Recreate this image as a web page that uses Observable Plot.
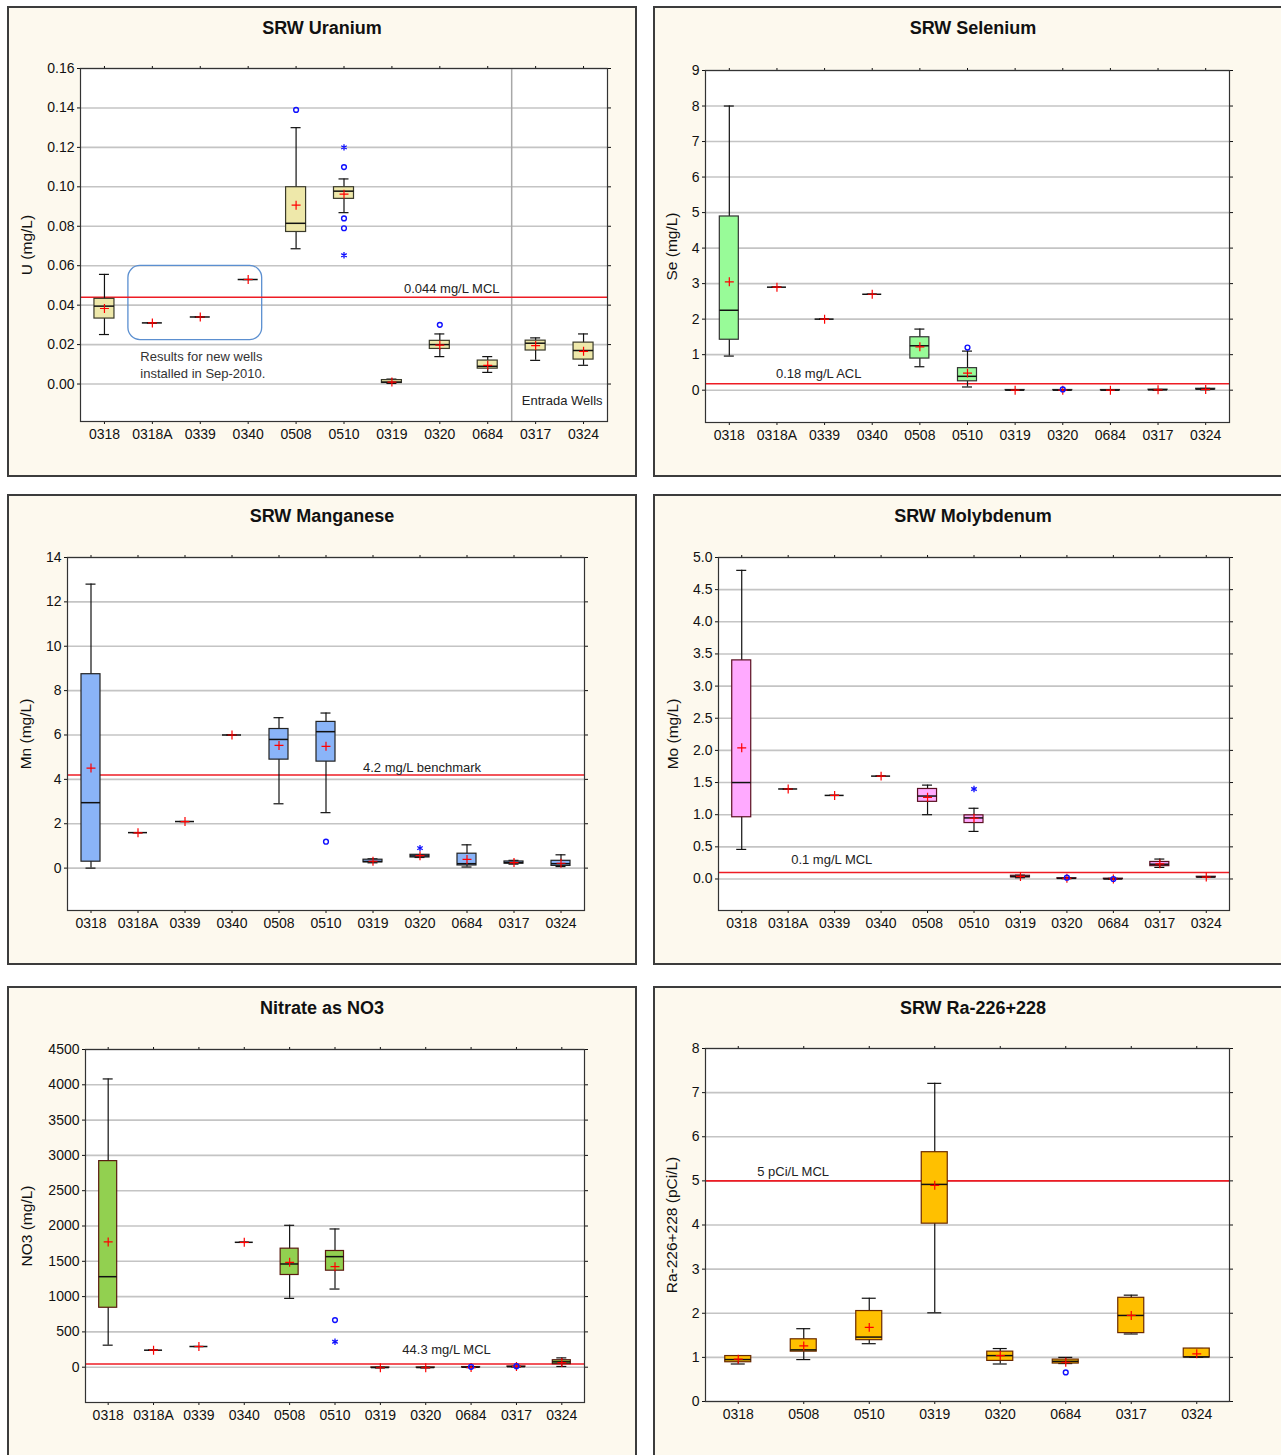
<!DOCTYPE html>
<html><head><meta charset="utf-8">
<script src="https://cdn.jsdelivr.net/npm/d3@7"></script>
<script src="https://cdn.jsdelivr.net/npm/@observablehq/plot@0.6"></script>
<style>
body{margin:0;width:1281px;height:1455px;overflow:hidden;background:#fff;position:relative;font-family:"Liberation Sans",Arial,sans-serif;}
.panel{position:absolute;background:#fdf9ee;border:2px solid #3c3c3c;box-sizing:border-box;}
.title{position:absolute;text-align:center;font-weight:bold;font-size:18px;line-height:22px;color:#111;}
.chart{position:absolute;}
</style></head><body>
<script>
// ---------- categories ----------
const wells11 = ["0318","0318A","0339","0340","0508","0510","0319","0320","0684","0317","0324"];
const wellsRa = ["0318","0508","0510","0319","0320","0684","0317","0324"];

// ---------- Uranium (mg/L) ----------
const uMin  = [0.0251,0.031,0.034,0.053,0.0686,0.0869,0.0003,0.0139,0.0059,0.012,0.0095];
const uQ1   = [0.0332,0.031,0.034,0.053,0.0771,0.0939,0.0005,0.0178,0.0078,0.017,0.0124];
const uMed  = [0.0395,0.031,0.034,0.053,0.0815,0.0978,0.0010,0.0200,0.0090,0.0207,0.0170];
const uQ3   = [0.0432,0.031,0.034,0.053,0.0998,0.0998,0.0020,0.0219,0.0119,0.022,0.021];
const uMax  = [0.0556,0.031,0.034,0.053,0.130,0.104,0.0025,0.0254,0.0139,0.0234,0.0254];
const uMean = [0.0383,0.031,0.034,0.053,0.0907,0.0963,0.0010,0.0197,0.0095,0.0195,0.0166];
const uOut  = [{well:"0508",value:0.139},{well:"0510",value:0.110},{well:"0510",value:0.084},{well:"0510",value:0.079},{well:"0320",value:0.030}];
const uExt  = [{well:"0510",value:0.120},{well:"0510",value:0.0653}];
const uTicks = [0,0.02,0.04,0.06,0.08,0.10,0.12,0.14,0.16];

// ---------- Selenium (mg/L) ----------
const seMin  = [0.96,2.9,2.0,2.7,0.66,0.09,0,0,0,0,0.01];
const seQ1   = [1.42,2.9,2.0,2.7,0.89,0.25,0,0,0,0.005,0.02];
const seMed  = [2.25,2.9,2.0,2.7,1.25,0.39,0,0,0,0.01,0.03];
const seQ3   = [4.89,2.9,2.0,2.7,1.49,0.62,0.005,0.005,0.005,0.015,0.04];
const seMax  = [8.0,2.9,2.0,2.7,1.72,1.10,0.01,0.01,0.01,0.02,0.05];
const seMean = [3.05,2.9,2.0,2.7,1.22,0.48,0,0,0,0.01,0.02];
const seOut  = [{well:"0510",value:1.2},{well:"0320",value:0.02}];
const seExt  = [];
const seTicks = [0,1,2,3,4,5,6,7,8,9];

// ---------- Manganese (mg/L) ----------
const mnMin  = [0.0,1.6,2.1,6.0,2.90,2.50,0.24,0.48,0.05,0.18,0.07];
const mnQ1   = [0.29,1.6,2.1,6.0,4.89,4.80,0.26,0.48,0.12,0.20,0.10];
const mnMed  = [2.95,1.6,2.1,6.0,5.80,6.15,0.30,0.55,0.20,0.25,0.20];
const mnQ3   = [8.74,1.6,2.1,6.0,6.27,6.59,0.38,0.60,0.65,0.30,0.33];
const mnMax  = [12.8,1.6,2.1,6.0,6.78,6.99,0.42,0.60,1.05,0.35,0.60];
const mnMean = [4.51,1.59,2.1,6.0,5.53,5.49,0.31,0.56,0.39,0.25,0.22];
const mnOut  = [{well:"0510",value:1.19}];
const mnExt  = [{well:"0320",value:0.9}];
const mnTicks = [0,2,4,6,8,10,12,14];

// ---------- Molybdenum (mg/L) ----------
const moMin  = [0.46,1.4,1.3,1.6,1.00,0.74,0.02,0.005,0.0,0.18,0.025];
const moQ1   = [0.96,1.4,1.3,1.6,1.20,0.87,0.025,0.005,0.0,0.20,0.025];
const moMed  = [1.50,1.4,1.3,1.6,1.29,0.95,0.04,0.01,0.0,0.23,0.03];
const moQ3   = [3.40,1.4,1.3,1.6,1.40,0.99,0.05,0.012,0.005,0.265,0.035];
const moMax  = [4.80,1.4,1.3,1.6,1.46,1.10,0.06,0.015,0.01,0.31,0.035];
const moMean = [2.04,1.4,1.3,1.6,1.27,0.945,0.04,0.01,0.0,0.235,0.03];
const moOut  = [{well:"0320",value:0.02},{well:"0684",value:0.0}];
const moExt  = [{well:"0510",value:1.40}];
const moTicks = [0,0.5,1,1.5,2,2.5,3,3.5,4,4.5,5];

// ---------- Nitrate as NO3 (mg/L) ----------
const noMin  = [312,241,293,1769,975,1107,-10,-10,-5,5,10];
const noQ1   = [842,241,293,1769,1306,1367,-8,-8,-3,5,43];
const noMed  = [1282,241,293,1769,1462,1566,-5,-5,0,8,76];
const noQ3   = [2919,241,293,1769,1679,1646,-3,-3,2,10,99];
const noMax  = [4083,241,293,1769,2010,1958,0,0,5,12,132];
const noMean = [1774,241,293,1769,1485,1424,-8,-8,-5,10,66];
const noOut  = [{well:"0510",value:667},{well:"0684",value:5},{well:"0317",value:15}];
const noExt  = [{well:"0510",value:360}];
const noTicks = [0,500,1000,1500,2000,2500,3000,3500,4000,4500];

// ---------- Ra-226+228 (pCi/L) ----------
const raMin  = [0.85,0.95,1.31,2.01,0.85,0.86,1.53,1.00];
const raQ1   = [0.89,1.13,1.39,4.03,0.92,0.86,1.55,1.00];
const raMed  = [0.95,1.17,1.46,4.92,1.04,0.91,1.95,1.01];
const raQ3   = [1.03,1.41,2.05,5.65,1.13,0.95,2.35,1.20];
const raMax  = [1.04,1.65,2.34,7.21,1.20,1.00,2.41,1.20];
const raMean = [0.96,1.26,1.68,4.90,1.04,0.89,1.95,1.08];
const raOut  = [{well:"0684",value:0.66}];
const raExt  = [];
const raTicks = [0,1,2,3,4,5,6,7,8];

// ---------- panels ----------
const panels = [
  {title:"SRW Uranium", ylabel:"U (mg/L)", wells:wells11, min:uMin,q1:uQ1,med:uMed,q3:uQ3,max:uMax,mean:uMean,out:uOut,ext:uExt,
   ticks:uTicks, fmt:d3.format(".2f"), yDomain:[-0.019,0.16], limit:0.044,
   limitLabel:{well:"0319", y:0.0482, text:"0.044 mg/L MCL"}, labelDx:12,
   box:{x:7,y:6,w:630,h:471}, frame:{x1:80,x2:607,y1:68,y2:421}, ylabelDx:-53,
   fill:"#eee8aa", boxStroke:"#3a3a2a", boxW:20, capW:10, extra:true},
  {title:"SRW Selenium", ylabel:"Se (mg/L)", wells:wells11, min:seMin,q1:seQ1,med:seMed,q3:seQ3,max:seMax,mean:seMean,out:seOut,ext:seExt,
   ticks:seTicks, fmt:d3.format("d"), yDomain:[-0.91,9], limit:0.18,
   limitLabel:{well:"0318A", y:0.45, text:"0.18 mg/L ACL"}, labelDx:-1,
   box:{x:653,y:6,w:640,h:471}, frame:{x1:705,x2:1229,y1:70,y2:422}, ylabelDx:-33,
   fill:"#98fb98", boxStroke:"#333", boxW:19, capW:10},
  {title:"SRW Manganese", ylabel:"Mn (mg/L)", wells:wells11, min:mnMin,q1:mnQ1,med:mnMed,q3:mnQ3,max:mnMax,mean:mnMean,out:mnOut,ext:mnExt,
   ticks:mnTicks, fmt:d3.format("d"), yDomain:[-1.91,14], limit:4.2,
   limitLabel:{well:"0319", y:4.54, text:"4.2 mg/L benchmark"}, labelDx:-10,
   box:{x:7,y:494,w:630,h:471}, frame:{x1:67,x2:584,y1:557,y2:910}, ylabelDx:-41,
   fill:"#8ab4f8", boxStroke:"#222", boxW:19, capW:10},
  {title:"SRW Molybdenum", ylabel:"Mo (mg/L)", wells:wells11, min:moMin,q1:moQ1,med:moMed,q3:moQ3,max:moMax,mean:moMean,out:moOut,ext:moExt,
   ticks:moTicks, fmt:d3.format(".1f"), yDomain:[-0.49,5], limit:0.1,
   limitLabel:{well:"0318A", y:0.30, text:"0.1 mg/L MCL"}, labelDx:3,
   box:{x:653,y:494,w:640,h:471}, frame:{x1:718,x2:1229,y1:557,y2:910}, ylabelDx:-45,
   fill:"#ffaaff", boxStroke:"#5a1020", boxW:19, capW:10},
  {title:"Nitrate as NO3", ylabel:"NO3 (mg/L)", wells:wells11, min:noMin,q1:noQ1,med:noMed,q3:noQ3,max:noMax,mean:noMean,out:noOut,ext:noExt,
   ticks:noTicks, fmt:d3.format("d"), yDomain:[-500,4500], limit:44.3,
   limitLabel:{well:"0319", y:241, text:"44.3 mg/L MCL"}, labelDx:22,
   box:{x:7,y:986,w:630,h:475}, frame:{x1:85,x2:584,y1:1049,y2:1402}, ylabelDx:-58,
   fill:"#92d050", boxStroke:"#5a1a10", boxW:18, capW:10},
  {title:"SRW Ra-226+228", ylabel:"Ra-226+228 (pCi/L)", wells:wellsRa, min:raMin,q1:raQ1,med:raMed,q3:raQ3,max:raMax,mean:raMean,out:raOut,ext:raExt,
   ticks:raTicks, fmt:d3.format("d"), yDomain:[0,8], limit:5,
   limitLabel:{well:"0318", y:5.21, text:"5 pCi/L MCL"}, labelDx:19,
   box:{x:653,y:986,w:640,h:475}, frame:{x1:705,x2:1229,y1:1048,y2:1401}, ylabelDx:-33,
   fill:"#ffc000", boxStroke:"#6a2a00", boxW:26, capW:14}
];

function makePanel(p) {
  const W = p.box.w, H = p.box.h;
  const mL = p.frame.x1 - p.box.x, mR = p.box.x + W - p.frame.x2;
  const mT = p.frame.y1 - p.box.y, mB = p.box.y + H - p.frame.y2;
  const step = (p.frame.x2 - p.frame.x1) / p.wells.length;
  const bI = (step - p.boxW) / 2, cI = (step - p.capW) / 2;
  const rows = p.wells.map((w, i) => ({well:w, min:p.min[i], q1:p.q1[i], med:p.med[i], q3:p.q3[i], max:p.max[i], mean:p.mean[i]}));
  const extras = [];
  if (p.extra) {
    extras.push(Plot.ruleX([{well:"0317"}], {x:"well", dx:-step/2, stroke:"#a8a8a8", strokeWidth:1.5}));
    extras.push(Plot.barY([{well:"0339", lo:0.0223, hi:0.0599}], {x:"well", y1:"lo", y2:"hi", fill:"none", stroke:"#5b8fd0", strokeWidth:1.3, rx:12, insetLeft:-step, insetRight:-(step/2 + 14)}));
    extras.push(Plot.text([{well:"0318A", y:0.0137, t:"Results for new wells"},{well:"0318A", y:0.0051, t:"installed in Sep-2010."}],
      {x:"well", y:"y", text:"t", textAnchor:"start", dx:-12, fontSize:13, fill:"#333"}));
    extras.push(Plot.text([{well:"0324", y:-0.0086, t:"Entrada Wells"}], {x:"well", y:"y", text:"t", textAnchor:"end", dx:19, fontSize:13, fill:"#222"}));
  }
  const marks = [
    Plot.frame({fill:"white"}),
    Plot.gridY(p.ticks, {stroke:"#c4c4c4", strokeOpacity:1, strokeWidth:1.6}),
    ...extras,
    Plot.ruleY([p.limit], {stroke:"#ee1c24", strokeWidth:1.6}),
    Plot.ruleX(rows, {x:"well", y1:"min", y2:"max", stroke:"#111", strokeWidth:1.2}),
    Plot.tickY(rows, {x:"well", y:"max", insetLeft:cI, insetRight:cI, stroke:"#111", strokeWidth:1.2}),
    Plot.tickY(rows, {x:"well", y:"min", insetLeft:cI, insetRight:cI, stroke:"#111", strokeWidth:1.2}),
    Plot.barY(rows, {x:"well", y1:"q1", y2:"q3", fill:p.fill, stroke:p.boxStroke, strokeWidth:1.2, insetLeft:bI, insetRight:bI}),
    Plot.tickY(rows, {x:"well", y:"med", insetLeft:bI, insetRight:bI, stroke:"#111", strokeWidth:1.5}),
    Plot.dot(rows, {x:"well", y:"mean", symbol:"plus", r:3, stroke:"#ff0000", strokeWidth:1.2}),
    Plot.dot(p.out, {x:"well", y:"value", symbol:"circle", r:2.4, stroke:"#1010ff", fill:"none", strokeWidth:1.4}),
    Plot.dot(p.ext, {x:"well", y:"value", symbol:"asterisk", r:3, stroke:"#1010ff", strokeWidth:1.3}),
    Plot.text([p.limitLabel], {x:"well", y:"y", text:"text", textAnchor:"start", dx:p.labelDx, fontSize:13, fill:"#222"}),
    Plot.text([p.ylabel], {frameAnchor:"left", textAnchor:"middle", lineAnchor:"middle", dx:p.ylabelDx, rotate:-90, text:d => d, fontSize:15.5, fill:"#111"}),
    Plot.axisY({ticks:p.ticks, tickSize:3, tickPadding:3, tickFormat:p.fmt, fontSize:14, label:null}),
    Plot.axisY({anchor:"right", ticks:p.ticks, tickSize:3, tickFormat:() => "", label:null}),
    Plot.axisX({anchor:"bottom", tickSize:3, tickPadding:5, fontSize:14, label:null}),
    Plot.axisX({anchor:"top", tickSize:3, tickFormat:() => "", label:null}),
    Plot.frame({stroke:"#333", strokeWidth:1.2})
  ];
  return Plot.plot({
    width:W, height:H, marginLeft:mL, marginRight:mR, marginTop:mT, marginBottom:mB,
    x:{type:"band", domain:p.wells, padding:0, round:false},
    y:{domain:p.yDomain},
    style:{fontFamily:"Liberation Sans, Arial, sans-serif", fontSize:"14px", background:"transparent", color:"#111", overflow:"visible"},
    marks
  });
}

for (const p of panels) {
  const panel = document.createElement("div");
  panel.className = "panel";
  Object.assign(panel.style, {left:p.box.x+"px", top:p.box.y+"px", width:p.box.w+"px", height:p.box.h+"px"});
  document.body.appendChild(panel);

  const holder = document.createElement("div");
  holder.className = "chart";
  Object.assign(holder.style, {left:p.box.x+"px", top:p.box.y+"px", width:p.box.w+"px", height:p.box.h+"px"});
  holder.appendChild(makePanel(p));
  document.body.appendChild(holder);

  const t = document.createElement("div");
  t.className = "title";
  t.textContent = p.title;
  Object.assign(t.style, {left:p.box.x+"px", top:(p.box.y + 11)+"px", width:p.box.w+"px"});
  document.body.appendChild(t);
}
</script>
</body></html>
